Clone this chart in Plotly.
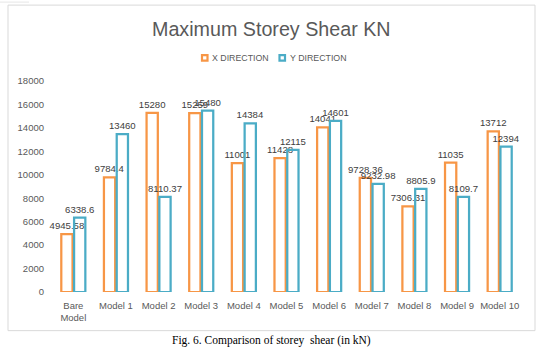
import plotly.graph_objects as go

categories = ["Bare<br>Model", "Model 1", "Model 2", "Model 3", "Model 4", "Model 5",
              "Model 6", "Model 7", "Model 8", "Model 9", "Model 10"]
x_direction = [4945.58, 9784.4, 15280, 15259, 11001, 11428, 14041, 9728.36, 7306.31, 11035, 13712]
y_direction = [6338.6, 13460, 8110.37, 15480, 14384, 12115, 14601, 9232.98, 8805.9, 8109.7, 12394]
y_ticks = [0, 2000, 4000, 6000, 8000, 10000, 12000, 14000, 16000, 18000]
series_names = ["X DIRECTION", "Y DIRECTION"]

ORANGE = "#F79646"
BLUE = "#4BACC6"
FONT = "Liberation Sans"

W, H = 554, 351
L, R = 52, 521
TOP, BOT = 81, 292.3


def px_x(p):
    return (p - L) / (R - L)


def px_y(p):
    return (BOT - p) / (BOT - TOP)


fig = go.Figure()
for name, vals, col in [(series_names[0], x_direction, ORANGE), (series_names[1], y_direction, BLUE)]:
    fig.add_trace(go.Bar(
        x=categories, y=vals, name=name,
        marker=dict(color="rgba(255,255,255,0)", line=dict(color=col, width=2.25)),
        text=[f"{v:g}" for v in vals], textposition="outside", textangle=0,
        constraintext="none", cliponaxis=False,
        textfont=dict(family=FONT, size=9.6, color="#404040"),
    ))

# manual legend (small outlined squares + labels)
shapes = [
    dict(type="rect", xref="paper", yref="paper", x0=px_x(8), x1=px_x(535),
         y0=px_y(331), y1=px_y(5), line=dict(color="#D9D9D9", width=1), layer="below"),
    dict(type="line", xref="paper", yref="paper", x0=px_x(0), x1=px_x(29),
         y0=px_y(2), y1=px_y(2), line=dict(color="#E6E6E6", width=1)),
]
annotations = [
    dict(text="Maximum Storey Shear KN", xref="paper", yref="paper",
         x=px_x(271), y=px_y(28.5), xanchor="center", yanchor="middle", showarrow=False,
         font=dict(family=FONT, size=19.7, color="#595959")),
    dict(text="Fig. 6. Comparison of storey  shear (in kN)", xref="paper", yref="paper",
         x=px_x(271), y=px_y(341), xanchor="center", yanchor="middle", showarrow=False,
         font=dict(family="Liberation Serif", size=11.5, color="black")),
]
for name, col, sx in [(series_names[0], ORANGE, 201), (series_names[1], BLUE, 278.5)]:
    shapes.append(dict(type="rect", xref="paper", yref="paper",
                       x0=px_x(sx + 1), x1=px_x(sx + 6.5), y0=px_y(60.5), y1=px_y(55),
                       line=dict(color=col, width=2.2), fillcolor="white"))
    annotations.append(dict(text=name, xref="paper", yref="paper", x=px_x(sx + 9), y=px_y(58),
                            xanchor="left", yanchor="middle", showarrow=False,
                            font=dict(family=FONT, size=8.8, color="#595959")))

fig.update_layout(
    width=W, height=H,
    margin=dict(l=L, r=W - R, t=TOP, b=H - BOT),
    paper_bgcolor="white", plot_bgcolor="white",
    barmode="group", bargap=0.4, bargroupgap=0.12,
    showlegend=False,
    xaxis=dict(showgrid=False, showline=False, zeroline=False, ticks="",
               ticklabelstandoff=6,
               tickfont=dict(family=FONT, size=9.5, color="#595959")),
    yaxis=dict(range=[0, 18000], tickvals=y_ticks, tickformat="d", showgrid=False, showline=False,
               zeroline=False, ticks="", ticklabelstandoff=7,
               tickfont=dict(family=FONT, size=9.5, color="#595959")),
    shapes=shapes,
    annotations=annotations,
)

fig.write_html("out.html")
